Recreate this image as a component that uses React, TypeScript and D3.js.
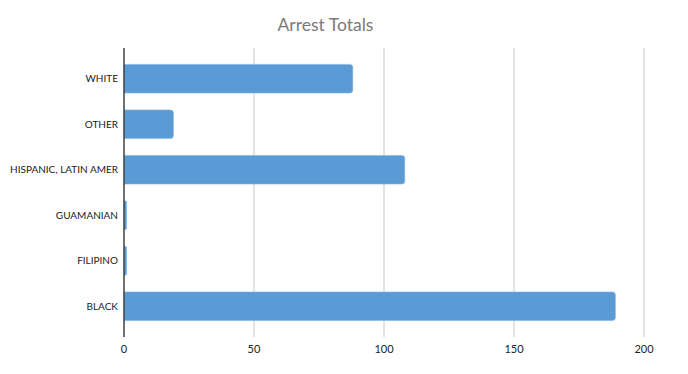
import React from 'react';
import * as d3 from 'd3';

const categories = ['WHITE', 'OTHER', 'HISPANIC, LATIN AMER', 'GUAMANIAN', 'FILIPINO', 'BLACK'];
const arrestTotals = [88, 19, 108, 1, 1, 189];
const xTicks = [0, 50, 100, 150, 200];

const width = 688;
const height = 374;
const margin = { top: 48, right: 44, bottom: 37, left: 124 };
const font = 'Lato, "Liberation Sans", sans-serif';

// bar with square left edge and rounded right corners
function barPath(x0: number, y0: number, w: number, h: number, r: number) {
  const rr = Math.min(r, w / 2, h / 2);
  return `M${x0},${y0}H${x0 + w - rr}Q${x0 + w},${y0} ${x0 + w},${y0 + rr}` +
    `V${y0 + h - rr}Q${x0 + w},${y0 + h} ${x0 + w - rr},${y0 + h}H${x0}Z`;
}

const App: React.FC = () => {
  const innerW = width - margin.left - margin.right;
  const innerH = height - margin.top - margin.bottom;

  const x = d3.scaleLinear().domain([0, 200]).range([0, innerW]);
  const y = d3.scaleBand<string>()
    .domain(categories)
    .range([0, innerH])
    .paddingInner(0.37)
    .paddingOuter(0.36);

  return (
    <svg width={width} height={height} style={{ display: 'block', margin: '-8px', background: '#fff' }}>
      <text x={325.5} y={31} textAnchor="middle" fontFamily={font} fontSize={17.5} fill="#7a7a7a">
        Arrest Totals
      </text>
      <g transform={`translate(${margin.left},${margin.top})`}>
        {xTicks.filter(t => t > 0).map(t => (
          <line key={t} x1={x(t)} x2={x(t)} y1={0} y2={innerH} stroke="#c8c8c8" strokeWidth={1} />
        ))}
        {categories.map((c, i) => (
          <path key={c} d={barPath(0, y(c)!, x(arrestTotals[i]), y.bandwidth(), 3)}
            fill="#5b9bd5" stroke="#86b6e2" strokeWidth={0.6} />
        ))}
        <line x1={0} x2={0} y1={0} y2={innerH} stroke="#404040" strokeWidth={1.5} />
        {categories.map(c => (
          <text key={c} x={-6} y={y(c)! + y.bandwidth() / 2} dy="0.35em" textAnchor="end"
            fontFamily={font} fontSize={10} fill="#222">
            {c}
          </text>
        ))}
        {xTicks.map(t => (
          <text key={t} x={x(t)} y={innerH + 12} dy="0.35em" textAnchor="middle"
            fontFamily={font} fontSize={11} fill="#222">
            {t}
          </text>
        ))}
      </g>
    </svg>
  );
};

export default App;
